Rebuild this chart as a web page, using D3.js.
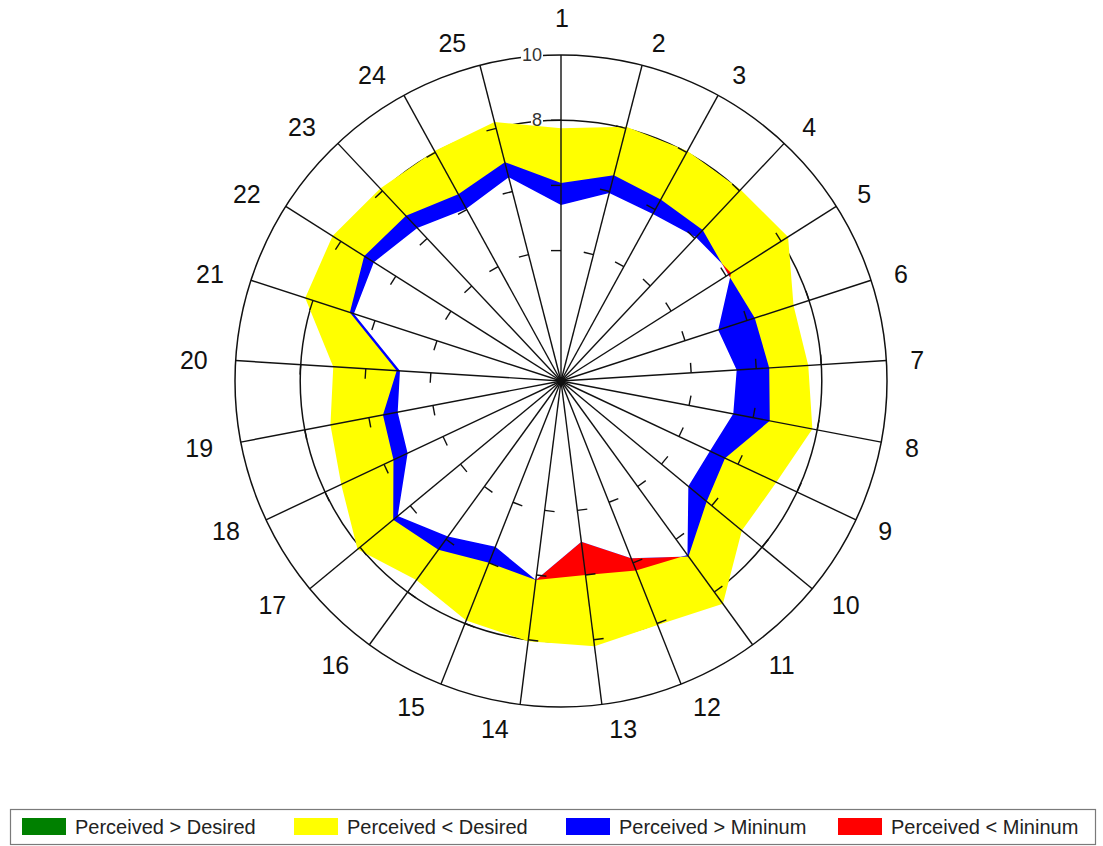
<!DOCTYPE html>
<html><head><meta charset="utf-8">
<script src="https://cdn.jsdelivr.net/npm/d3@7"></script>
<style>body{margin:0;background:#fff}svg{display:block}</style>
</head><body>
<svg id="chart" width="1103" height="846"></svg>
<script>
// ---- data ----
const categories = ["1","2","3","4","5","6","7","8","9","10","11","12","13","14","15","16","17","18","19","20","21","22","23","24","25"];
const desired   = [7.75,8.05,8.05,8.05,8.25,7.5,7.6,7.85,7.3,7.2,8.45,8.05,8.2,8.05,7.9,7.55,8.1,7.45,7.2,7.0,8.25,8.3,8.1,8.05,8.2];
const perceived = [6.07,6.52,6.35,6.35,6.08,6.25,6.4,6.52,5.56,5.8,6.65,5.85,4.97,6.15,6.0,6.4,6.68,5.68,5.56,5.05,6.81,7.15,6.95,6.54,6.93];
const minimum   = [5.4,5.95,5.85,6.05,6.18,5.07,5.4,5.38,5.05,5.07,6.6,6.25,6.0,6.15,5.47,5.9,6.5,5.2,5.1,4.95,6.68,6.8,6.44,6.03,6.45];
const tickValues = [0,2,4,6,8,10];
const gridCircles = [2,8,10];
const spokeTicks = [4,6,8];
const legendLabels = ["Perceived > Desired","Perceived < Desired","Perceived > Mininum","Perceived < Mininum"];
const legendColors = ["#008000","#ffff00","#0000ff","#ff0000"];

// ---- layout ----
const cx = 561, cy = 381, R = 326;
const svg = d3.select("#chart");
const r = d3.scaleLinear().domain([0,10]).range([0,R]);
const ang = d3.scaleLinear().domain([0,categories.length]).range([0,2*Math.PI]);
const radial = d3.lineRadial().angle((d,i)=>ang(i)).radius(d=>r(d)).curve(d3.curveLinearClosed);

const defs = svg.append("defs");
defs.append("clipPath").attr("id","clipD").append("path").attr("d",radial(desired));
defs.append("clipPath").attr("id","clipP").append("path").attr("d",radial(perceived));

const g = svg.append("g").attr("transform",`translate(${cx},${cy})`);

// grid circles (under fills)
g.append("g").selectAll("circle").data(gridCircles).join("circle")
  .attr("r",d=>r(d)).attr("fill","none").attr("stroke","#111").attr("stroke-width",1.5);

// value labels along spoke 1 (under fills)
const tl = g.append("g").attr("font-family","Liberation Sans, Arial, sans-serif").attr("font-size",18).attr("fill","#333");
tickValues.forEach(v=>{
  const t = tl.append("text").attr("x",-19).attr("y",-r(v)).attr("text-anchor","end")
    .attr("dominant-baseline","central").text(v);
  const b = t.node().getBBox();
  tl.insert("rect","text").attr("x",b.x-1).attr("y",b.y+2).attr("width",b.width+2).attr("height",b.height-4).attr("fill","#fff");
});

// fills
const f = g.append("g");
f.append("path").attr("d",radial(perceived)).attr("fill",legendColors[0]);
f.append("path").attr("d",radial(desired)).attr("fill",legendColors[1]);
f.append("path").attr("d",radial(minimum)).attr("fill",legendColors[3]);
f.append("path").attr("d",radial(perceived)).attr("fill",legendColors[2]).attr("clip-path","url(#clipD)");
f.append("path").attr("d",radial(minimum)).attr("fill","#fff").attr("clip-path","url(#clipP)");

// spokes
const sp = g.append("g").attr("stroke","#111").attr("stroke-width",1.4);
categories.forEach((c,i)=>{
  const a = ang(i);
  sp.append("line").attr("x1",0).attr("y1",0)
    .attr("x2",r(10)*Math.sin(a)).attr("y2",-r(10)*Math.cos(a));
  spokeTicks.forEach(v=>{
    const px = r(v)*Math.sin(a), py = -r(v)*Math.cos(a);
    sp.append("line").attr("x1",px).attr("y1",py)
      .attr("x2",px-10*Math.cos(a)).attr("y2",py-10*Math.sin(a));
  });
});
g.append("circle").attr("r",4).attr("fill","#111");

// category labels
const lab = g.append("g").attr("font-family","Liberation Sans, Arial, sans-serif").attr("font-size",25).attr("fill","#111");
categories.forEach((c,i)=>{
  const a = ang(i), s = Math.sin(a), co = Math.cos(a);
  let x, y, anchor;
  if (Math.abs(s) < 0.01) { x = 1; y = -363; anchor = "middle"; }
  else if (s > 0) { x = 345*s + 5; y = -350*co + 1; anchor = "start"; }
  else { x = 345*s - 9; y = -350*co + 1; anchor = "end"; }
  lab.append("text").attr("x",x).attr("y",y).attr("text-anchor",anchor)
    .attr("dominant-baseline","central").text(c);
});

// legend
const lg = svg.append("g");
lg.append("rect").attr("x",10.5).attr("y",809.5).attr("width",1085).attr("height",35)
  .attr("fill","#fff").attr("stroke","#7a7a7a").attr("stroke-width",1.2);
const lx = d3.scaleLinear().domain([0,1]).range([22,294]);
legendLabels.forEach((t,i)=>{
  lg.append("rect").attr("x",lx(i)).attr("y",818).attr("width",44).attr("height",17).attr("fill",legendColors[i]);
  lg.append("text").attr("x",lx(i)+53).attr("y",827).attr("dominant-baseline","central")
    .attr("font-family","Liberation Sans, Arial, sans-serif").attr("font-size",20).attr("fill","#222").text(t);
});
</script>
</body></html>
